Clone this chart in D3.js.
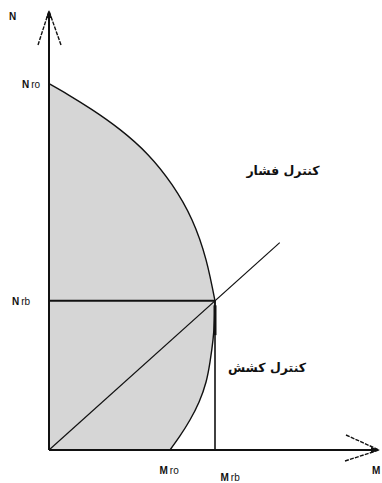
<!DOCTYPE html>
<html>
<head>
<meta charset="utf-8">
<script src="https://cdn.jsdelivr.net/npm/d3@7"></script>
<style>
  html, body { margin: 0; padding: 0; background: #fff; }
  svg { display: block; }
  .lbl { font-family: "Liberation Sans", Arial, sans-serif; font-size: 10px; font-weight: bold; fill: #111; }
  .fa { font-family: "DejaVu Sans", sans-serif; font-size: 12.5px; font-weight: bold; fill: #111; }
</style>
</head>
<body>
<svg id="chart" width="382" height="483"></svg>
<script>
// Interaction curve (bending moment M vs axial force N), normalised so the balance point is (1, 1)
const compressionBranch = [
  [0.000, 2.456], [0.114, 2.383], [0.259, 2.282], [0.428, 2.148], [0.596, 1.980],
  [0.741, 1.779], [0.861, 1.544], [0.946, 1.275], [1.000, 1.000]
];
const tensionBranch = [
  [1.000, 1.000], [0.997, 0.872], [0.988, 0.738], [0.970, 0.591], [0.946, 0.456],
  [0.904, 0.322], [0.849, 0.201], [0.789, 0.094], [0.729, 0.000]
];
const balancePoint = [1.0, 1.0];
const diagonalEnd = [1.39, 1.39];

const nTickValues = [2.456, 1.0];
const nTickLabels = ["ro", "rb"];
const mTickValues = [0.729, 1.0];
const mTickLabels = ["ro", "rb"];
const regionLabels = ["کنترل فشار", "کنترل کشش"];

const svg = d3.select("#chart");
const x = d3.scaleLinear().domain([0, 2]).range([49, 381]);
const y = d3.scaleLinear().domain([0, 2.95]).range([450, 10]);

const branchLine = d3.line().x(d => x(d[0])).y(d => y(d[1])).curve(d3.curveNatural);
const upperPath = branchLine(compressionBranch);
const lowerPath = branchLine(tensionBranch);

// shaded interaction region
svg.append("path")
  .attr("d", upperPath + lowerPath.replace(/^M/, "L") + `L${x(0)},${y(0)}Z`)
  .attr("fill", "#d6d6d6")
  .attr("stroke", "none");

// reference lines through the balance point
svg.append("line")
  .attr("x1", x(0)).attr("y1", y(balancePoint[1]))
  .attr("x2", x(balancePoint[0])).attr("y2", y(balancePoint[1]))
  .attr("stroke", "#111").attr("stroke-width", 2);
svg.append("line")
  .attr("x1", x(balancePoint[0])).attr("y1", y(balancePoint[1]))
  .attr("x2", x(balancePoint[0])).attr("y2", y(0))
  .attr("stroke", "#111").attr("stroke-width", 1.6);
svg.append("line")
  .attr("x1", x(0)).attr("y1", y(0))
  .attr("x2", x(diagonalEnd[0])).attr("y2", y(diagonalEnd[1]))
  .attr("stroke", "#111").attr("stroke-width", 1.2);

// interaction curve outline
[upperPath, lowerPath].forEach(d => {
  svg.append("path")
    .attr("d", d)
    .attr("fill", "none")
    .attr("stroke", "#111")
    .attr("stroke-width", 1.4);
});
// heavier stroke along the upper tension branch
svg.append("line")
  .attr("x1", x(1.0)).attr("y1", y(0.97))
  .attr("x2", x(1.0)).attr("y2", y(0.77))
  .attr("stroke", "#111").attr("stroke-width", 3);

// axes with arrowheads
svg.append("line")
  .attr("x1", x(0)).attr("y1", y(0)).attr("x2", x(0)).attr("y2", 12)
  .attr("stroke", "#111").attr("stroke-width", 2);
svg.append("line")
  .attr("x1", x(0)).attr("y1", y(0)).attr("x2", 378).attr("y2", y(0))
  .attr("stroke", "#111").attr("stroke-width", 2);

const barbs = [
  [[38, 45], [49, 11]], [[61, 45], [49, 11]],
  [[346, 435], [379, 450]], [[345, 461], [379, 450]]
];
svg.selectAll("line.barb").data(barbs).enter().append("line")
  .attr("class", "barb")
  .attr("x1", d => d[0][0]).attr("y1", d => d[0][1])
  .attr("x2", d => d[1][0]).attr("y2", d => d[1][1])
  .attr("stroke", "#111").attr("stroke-width", 1.4)
  .attr("stroke-dasharray", "4,1.2");
svg.append("path").attr("d", "M46,18 L49,10 L52,18 Z").attr("fill", "#111");
svg.append("path").attr("d", "M371,447 L380,450 L371,453 Z").attr("fill", "#111");

// axis tick labels
const yAxis = d3.axisLeft(y).tickValues(nTickValues).tickSize(0).tickPadding(0).tickFormat(() => "");
const gy = svg.append("g").attr("transform", `translate(${x(0)},0)`).call(yAxis);
gy.select(".domain").remove();
gy.selectAll(".tick").each(function(d, i) {
  const t = d3.select(this).append("text").attr("class", "lbl")
    .attr("x", i === 0 ? -27 : -37).attr("y", 4).attr("text-anchor", "start");
  t.append("tspan").text("N");
  t.append("tspan").attr("dx", 2).attr("font-weight", "normal").text(nTickLabels[i]);
});

const xAxis = d3.axisBottom(x).tickValues(mTickValues).tickSize(0).tickPadding(0).tickFormat(() => "");
const gx = svg.append("g").attr("transform", `translate(0,${y(0)})`).call(xAxis);
gx.select(".domain").remove();
gx.selectAll(".tick").each(function(d, i) {
  const t = d3.select(this).append("text").attr("class", "lbl")
    .attr("x", i === 0 ? -11 : 5).attr("y", i === 0 ? 24 : 31).attr("text-anchor", "start");
  t.append("tspan").text("M");
  t.append("tspan").attr("dx", 2).attr("font-weight", "normal").text(mTickLabels[i]);
});

// axis names
svg.append("text").attr("class", "lbl").attr("x", 9).attr("y", 20).text("N");
svg.append("text").attr("class", "lbl").attr("x", 372).attr("y", 474).text("M");

// region labels
svg.append("text").attr("class", "fa").attr("x", 283).attr("y", 175)
  .attr("text-anchor", "middle").attr("direction", "rtl").text(regionLabels[0]);
svg.append("text").attr("class", "fa").attr("x", 267).attr("y", 372)
  .attr("text-anchor", "middle").attr("direction", "rtl").text(regionLabels[1]);
</script>
</body>
</html>
